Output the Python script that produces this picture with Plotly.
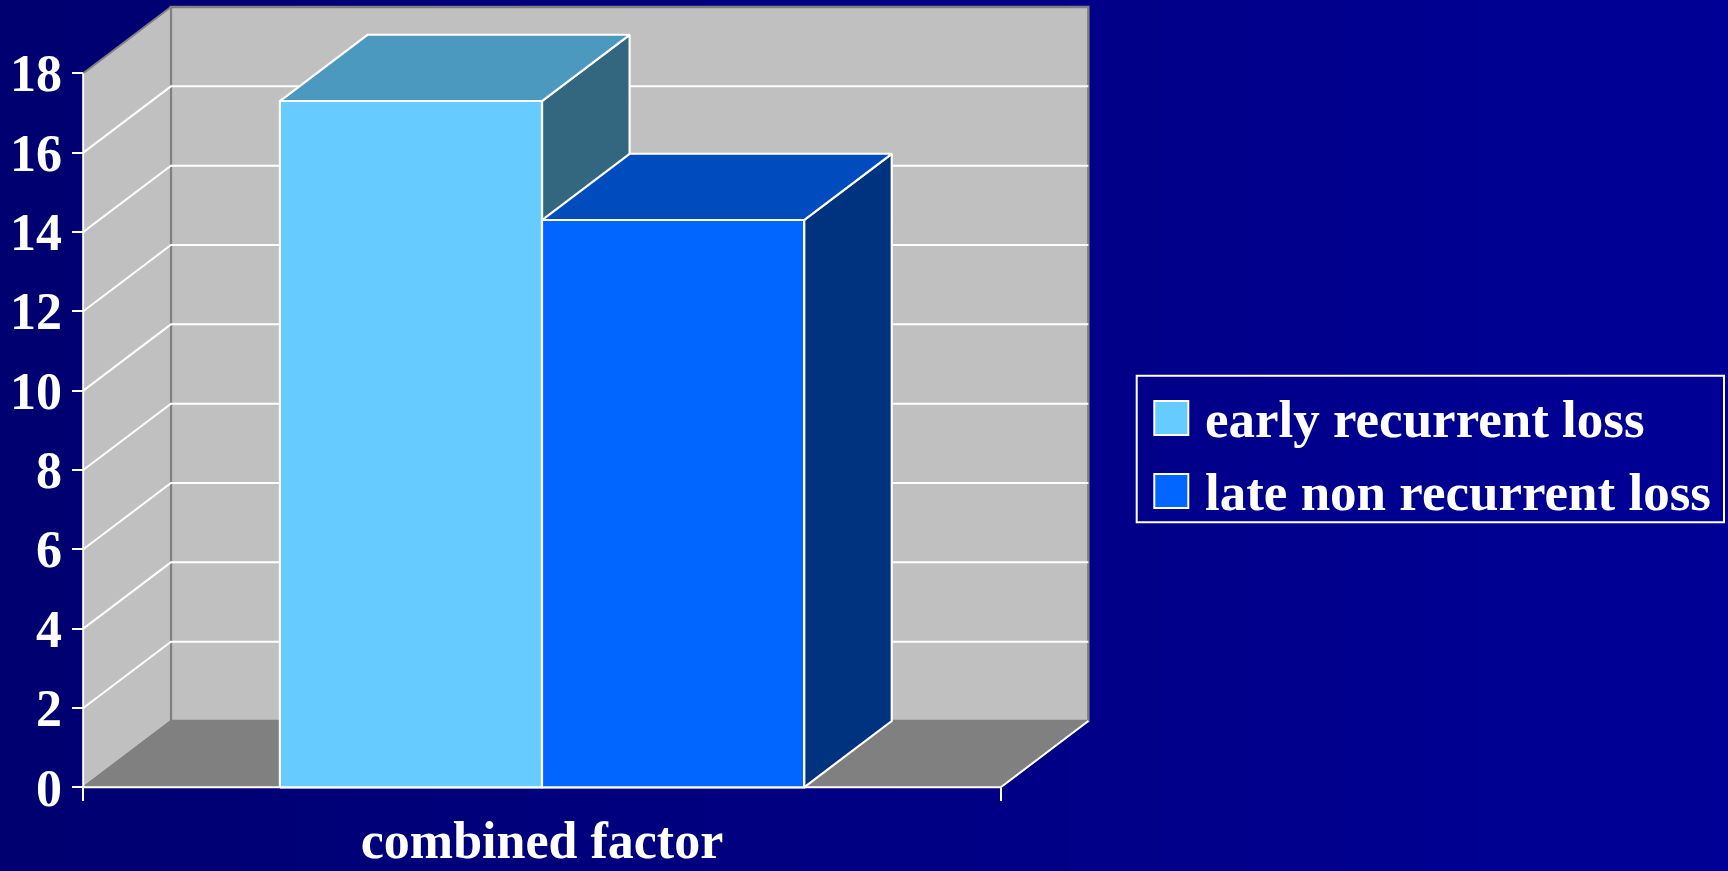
import plotly.graph_objects as go

# ---------------- data ----------------
CATEGORIES = ["combined factor"]
SERIES = ["early recurrent loss", "late non recurrent loss"]
VALUES = {  # series -> values per category
    "early recurrent loss": [17.3],
    "late non recurrent loss": [14.3],
}
Y_TICKS = [0, 2, 4, 6, 8, 10, 12, 14, 16, 18]
Y_MAX = 18

# ---------------- style ----------------
FRONT_COLORS = ["#66CCFF", "#0066FF"]
TOP_COLORS = ["#4C99BF", "#004CBF"]
SIDE_COLORS = ["#33667F", "#00337F"]
WALL = "#C0C0C0"
FLOOR = "#808080"
EDGE = "#808080"
WHITE = "#FFFFFF"
BG_LEFT = "#000070"
BG_RIGHT = "#000096"
FONT = "Liberation Serif, Times New Roman, serif"

W, H = 1728, 871
# page geometry of the front plane
FX, FY = 83.3, 787.3        # front-left-bottom corner in px
SX = 917.4                  # px per category unit
SY = 39.67                  # px per value unit
DX, DY = 0.0955, 1.67       # depth offset (category units, value units)
GAP = 1.5                   # gap width relative to bar width
PAD = 8

n_cat = len(CATEGORIES)
n_ser = len(SERIES)
bw = 1.0 / (n_ser + GAP)

x_lo, x_hi = -0.5, n_cat - 0.5
y_top = Y_MAX + DY

left_px = FX - PAD
right_px = FX + (x_hi - x_lo + DX) * SX + PAD
bot_px = FY + PAD
top_px = max(0.0, FY - y_top * SY - PAD)
xr = [x_lo - PAD / SX, x_hi + DX + PAD / SX]
yr = [-PAD / SY, (FY - top_px) / SY]

fig = go.Figure()

# background gradient (full page)
fig.add_trace(go.Heatmap(
    z=[[0, 1], [0, 1]], x=[0, 1], y=[0, 1], zsmooth="best",
    colorscale=[[0, BG_LEFT], [1, BG_RIGHT]], showscale=False,
    hoverinfo="skip", xaxis="x", yaxis="y"))


def poly(xs, ys, fill, line, width=2):
    fig.add_trace(go.Scatter(
        x=list(xs) + [xs[0]], y=list(ys) + [ys[0]], mode="lines",
        fill="toself", fillcolor=fill, line=dict(color=line, width=width),
        hoverinfo="skip", showlegend=False, xaxis="x2", yaxis="y2"))


def seg(xs, ys, color, width=2):
    fig.add_trace(go.Scatter(
        x=xs, y=ys, mode="lines", line=dict(color=color, width=width),
        hoverinfo="skip", showlegend=False, xaxis="x2", yaxis="y2"))


# back wall
poly([x_lo + DX, x_hi + DX, x_hi + DX, x_lo + DX],
     [DY, DY, Y_MAX + DY, Y_MAX + DY], WALL, EDGE, 2.5)
# side wall
poly([x_lo, x_lo + DX, x_lo + DX, x_lo],
     [0, DY, Y_MAX + DY, Y_MAX], WALL, EDGE, 2)
# floor
poly([x_lo, x_hi, x_hi + DX, x_lo + DX], [0, 0, DY, DY], FLOOR, EDGE, 1.5)
# gridlines
for v in Y_TICKS:
    if 0 < v < Y_MAX:
        seg([x_lo, x_lo + DX, x_hi + DX], [v, v + DY, v + DY], WHITE, 2)
# white front edges
seg([x_lo, x_lo], [0, Y_MAX], WHITE, 2)
seg([x_lo, x_hi, x_hi + DX], [0, 0, DY], WHITE, 2)

# bars
for ci, cat in enumerate(CATEGORIES):
    for si, name in enumerate(SERIES):
        v = VALUES[name][ci]
        x0 = ci - n_ser * bw / 2 + si * bw
        x1 = x0 + bw
        poly([x1, x1 + DX, x1 + DX, x1], [0, DY, v + DY, v],
             SIDE_COLORS[si], WHITE, 2.2)
        poly([x0, x1, x1 + DX, x0 + DX], [v, v, v + DY, v + DY],
             TOP_COLORS[si], WHITE, 2.2)
        poly([x0, x1, x1, x0], [0, 0, v, v], FRONT_COLORS[si], WHITE, 2.2)

# ---------------- legend (drawn) ----------------
LX0, LX1, LY0, LY1 = 1136.7, 1724.0, 375.7, 522.3
shapes = [dict(type="rect", xref="paper", yref="paper",
               x0=LX0 / W, x1=LX1 / W, y0=1 - LY1 / H, y1=1 - LY0 / H,
               line=dict(color=WHITE, width=2), fillcolor="rgba(0,0,0,0)")]
annotations = []
row_c = [418.0, 491.0]
sw = 34
for si, name in enumerate(SERIES):
    cy = row_c[si]
    shapes.append(dict(type="rect", xref="paper", yref="paper",
                       x0=1154.3 / W, x1=(1154.3 + sw) / W,
                       y0=1 - (cy + sw / 2) / H, y1=1 - (cy - sw / 2) / H,
                       line=dict(color=WHITE, width=2),
                       fillcolor=FRONT_COLORS[si]))
    annotations.append(dict(xref="paper", yref="paper", x=1203 / W,
                            y=1 - (cy + 1) / H, xanchor="left", yanchor="middle",
                            text=name, showarrow=False,
                            font=dict(family=FONT, size=53, color=WHITE,
                                      weight="bold")))

fig.update_layout(
    width=W, height=H, margin=dict(l=0, r=0, t=0, b=0, pad=0, autoexpand=False),
    paper_bgcolor=BG_LEFT, plot_bgcolor="rgba(0,0,0,0)",
    showlegend=False, shapes=shapes, annotations=annotations,
    xaxis=dict(domain=[0, 1], range=[0, 1], visible=False, fixedrange=True,
               automargin=False),
    yaxis=dict(domain=[0, 1], range=[0, 1], visible=False, fixedrange=True,
               automargin=False),
    xaxis2=dict(domain=[left_px / W, right_px / W], range=xr,
                anchor="free", position=1 - FY / H, automargin=False,
                showgrid=False, zeroline=False, showline=False,
                tickmode="array", tickvals=list(range(n_cat)),
                ticktext=CATEGORIES, ticks="", ticklabelstandoff=18,
                tickfont=dict(family=FONT, size=52, color=WHITE, weight="bold"),
                minor=dict(tickmode="array",
                           tickvals=[c - 0.5 for c in range(n_cat + 1)],
                           ticks="outside", ticklen=13, tickwidth=2,
                           tickcolor=WHITE, showgrid=False)),
    yaxis2=dict(domain=[1 - bot_px / H, 1 - top_px / H], range=yr,
                anchor="free", position=FX / W, automargin=False,
                showgrid=False, zeroline=False, showline=False,
                tickmode="array", tickvals=Y_TICKS,
                ticktext=[str(t) for t in Y_TICKS],
                ticks="outside", ticklen=11, tickwidth=2, tickcolor=WHITE,
                tickfont=dict(family=FONT, size=52, color=WHITE, weight="bold")),
)

fig.write_html("out.html")
